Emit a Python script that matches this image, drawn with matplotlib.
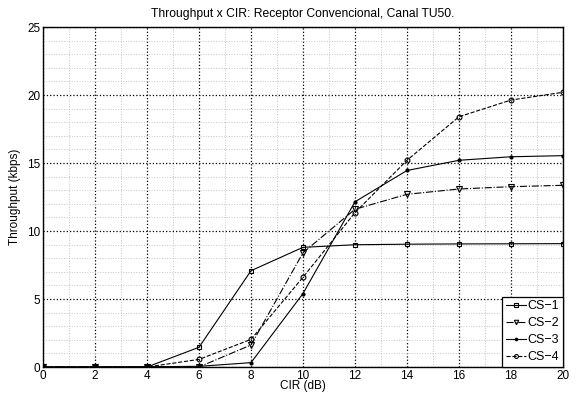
import matplotlib
matplotlib.use("Agg")
import matplotlib.pyplot as plt
import numpy as np
from matplotlib.ticker import MultipleLocator

plt.rcParams['font.family'] = ['Liberation Sans', 'DejaVu Sans']

# Data
cir_db = [0, 2, 4, 6, 8, 10, 12, 14, 16, 18, 20]
cs1 = [0, 0, 0, 1.45, 7.08, 8.8, 8.99, 9.03, 9.05, 9.06, 9.07]
cs2 = [0, 0, 0, 0, 1.62, 8.4, 11.6, 12.7, 13.09, 13.26, 13.36]
cs3 = [0, 0, 0.02, 0.05, 0.32, 5.4, 12.15, 14.45, 15.2, 15.46, 15.54]
cs4 = [0, 0, 0, 0.56, 2.03, 6.6, 11.35, 15.2, 18.4, 19.63, 20.2]

labels = ['CS\u22121', 'CS\u22122', 'CS\u22123', 'CS\u22124']

fig = plt.figure(figsize=(5.78, 3.96), dpi=100)
ax = fig.add_axes([0.0744, 0.0732, 0.8996, 0.8586])

ax.plot(cir_db, cs1, '-', color='black', lw=0.8, marker='s', ms=3.5,
        mfc='none', mew=0.8, label=labels[0])
ax.plot(cir_db, cs2, '-.', color='black', lw=0.8, marker='v', ms=4,
        mfc='none', mew=0.8, label=labels[1])
ax.plot(cir_db, cs3, '-', color='black', lw=0.8, marker='.', ms=4,
        label=labels[2])
ax.plot(cir_db, cs4, '--', color='black', lw=0.8, marker='o', ms=3.5,
        mfc='none', mew=0.8, label=labels[3])

ax.set_xlim(0, 20)
ax.set_ylim(0, 25)
ax.xaxis.set_major_locator(MultipleLocator(2))
ax.xaxis.set_minor_locator(MultipleLocator(1))
ax.yaxis.set_major_locator(MultipleLocator(5))
ax.yaxis.set_minor_locator(MultipleLocator(1))

ax.grid(which='major', linestyle=':', color='black', lw=0.9)
ax.grid(which='minor', linestyle=':', color='#c4c4c4', lw=0.7)
ax.set_axisbelow(True)

ax.tick_params(which='both', direction='in', labelsize=8.5, length=0, pad=2)
for s in ax.spines.values():
    s.set_linewidth(1.0)

ax.set_xlabel('CIR (dB)', fontsize=8.5, labelpad=-1)
ax.set_ylabel('Throughput (kbps)', fontsize=8.5, labelpad=4)
ax.set_title('Throughput x CIR: Receptor Convencional, Canal TU50.',
             fontsize=8.7, pad=7)

leg = ax.legend(loc='lower right', fontsize=9, frameon=True, fancybox=False,
                edgecolor='black', framealpha=1, borderpad=0.3,
                labelspacing=0.4, handlelength=1.6, handletextpad=0.15,
                borderaxespad=0, markerscale=0.8)
leg.get_frame().set_linewidth(0.9)

fig.savefig('out.png', dpi=100)
